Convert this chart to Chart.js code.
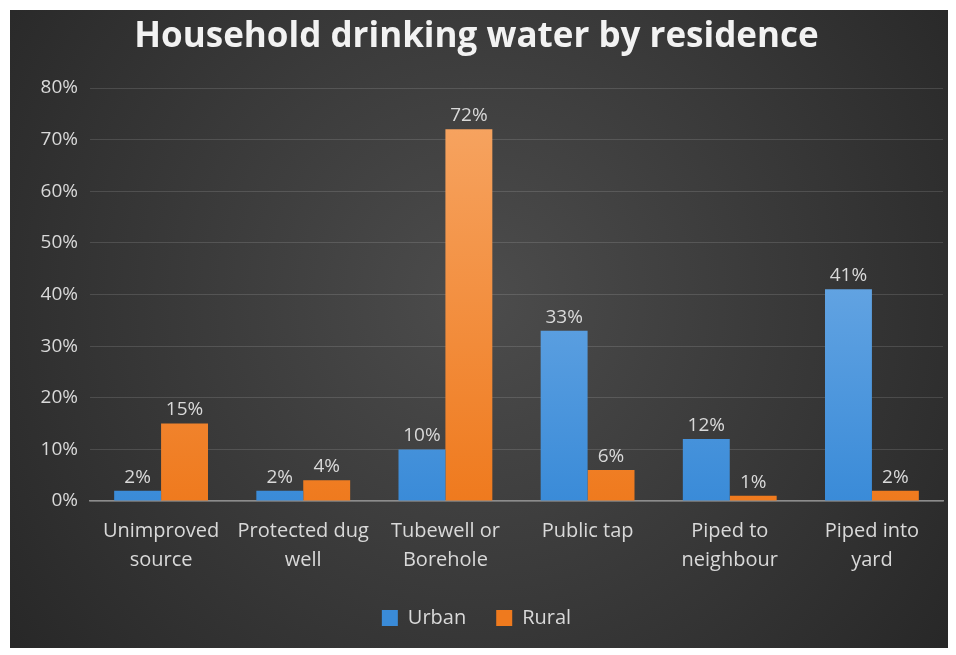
<!DOCTYPE html>
<html>
<head>
<meta charset="utf-8">
<script src="https://cdn.jsdelivr.net/npm/chart.js@4.4.1/dist/chart.umd.min.js"></script>
<style>
  html, body { margin: 0; padding: 0; background: #ffffff; }
  #wrap { position: absolute; left: 10px; top: 10px; width: 938px; height: 638px; }
</style>
</head>
<body>
<div id="wrap"><canvas id="barChart"></canvas></div>
<script>
// chart data
const categories = [
  ["Unimproved", "source"],
  ["Protected dug", "well"],
  ["Tubewell or", "Borehole"],
  ["Public tap"],
  ["Piped to", "neighbour"],
  ["Piped into", "yard"],
];
const urbanValues = [2, 2, 10, 33, 12, 41];
const ruralValues = [15, 4, 72, 6, 1, 2];
const seriesNames = ["Urban", "Rural"];
const yTicks = [0, 10, 20, 30, 40, 50, 60, 70, 80];

const FONT = "'Open Sans', Lato, sans-serif";
const TEXT = "#d9d9d9";

// vertical gradient per bar
const barGradient = (ctx, top, bottom) => {
  const chart = ctx.chart;
  const area = chart.chartArea;
  if (!area) return bottom;
  const el = ctx.element;
  const y0 = el && el.y !== undefined ? el.y : area.top;
  const y1 = el && el.base !== undefined ? el.base : area.bottom;
  if (!isFinite(y0) || !isFinite(y1) || y0 === y1) return bottom;
  const g = chart.ctx.createLinearGradient(0, y0, 0, y1);
  g.addColorStop(0, top);
  g.addColorStop(1, bottom);
  return g;
};

// dark radial background
const backgroundPlugin = {
  id: "bg",
  beforeDraw(chart) {
    const { ctx, width, height } = chart;
    const g = ctx.createRadialGradient(width / 2, height * 0.45, 20, width / 2, height * 0.45, width * 0.65);
    g.addColorStop(0, "#4b4b4b");
    g.addColorStop(1, "#262626");
    ctx.save();
    ctx.fillStyle = g;
    ctx.fillRect(0, 0, width, height);
    ctx.restore();
  },
};

// value labels on top of bars
const valueLabels = {
  id: "valueLabels",
  afterDatasetsDraw(chart) {
    const ctx = chart.ctx;
    ctx.save();
    ctx.font = "19px " + FONT;
    ctx.fillStyle = TEXT;
    ctx.textAlign = "center";
    ctx.textBaseline = "bottom";
    chart.data.datasets.forEach((ds, i) => {
      chart.getDatasetMeta(i).data.forEach((bar, j) => {
        ctx.fillText(ds.data[j] + "%", bar.x, bar.y - 4);
      });
    });
    ctx.restore();
  },
};

const ctx = document.getElementById("barChart").getContext("2d");
new Chart(ctx, {
  type: "bar",
  data: {
    labels: categories,
    datasets: [
      {
        label: seriesNames[0],
        data: urbanValues,
        backgroundColor: c => barGradient(c, "#86b9eb", "#3a8bd8"),
        borderWidth: 0,
      },
      {
        label: seriesNames[1],
        data: ruralValues,
        backgroundColor: c => barGradient(c, "#f7a766", "#ef7a1e"),
        borderWidth: 0,
      },
    ],
  },
  options: {
    responsive: true,
    maintainAspectRatio: false,
    animation: false,
    devicePixelRatio: 1,
    layout: { padding: { left: 0, right: 5, top: 0, bottom: 10 } },
    datasets: {
      bar: { barPercentage: 1, categoryPercentage: 0.66 },
    },
    plugins: {
      title: {
        display: true,
        text: "Household drinking water by residence",
        color: "#f2f2f2",
        font: { family: FONT, size: 35, weight: "bold" },
        padding: { top: 6, bottom: 30 },
      },
      legend: {
        position: "bottom",
        labels: {
          color: TEXT,
          font: { family: FONT, size: 20 },
          boxWidth: 16,
          boxHeight: 16,
          padding: 30,
        },
      },
      tooltip: { enabled: false },
    },
    scales: {
      x: {
        afterFit: s => { s.height = 77; },
        grid: { display: false, drawTicks: false },
        border: { color: "#8c8c8c", width: 1.5 },
        ticks: {
          color: TEXT,
          font: { family: FONT, size: 20, lineHeight: 1.45 },
          padding: 16,
          maxRotation: 0,
        },
      },
      y: {
        min: 0,
        max: 80,
        afterFit: s => { s.width = 80; },
        afterBuildTicks: s => { s.ticks = yTicks.map(v => ({ value: v })); },
        grid: { color: "rgba(255,255,255,0.13)", drawTicks: false },
        border: { display: false },
        ticks: {
          color: TEXT,
          font: { family: FONT, size: 19 },
          padding: 12,
          callback: v => v + "%",
        },
      },
    },
  },
  plugins: [backgroundPlugin, valueLabels],
});
</script>
</body>
</html>
